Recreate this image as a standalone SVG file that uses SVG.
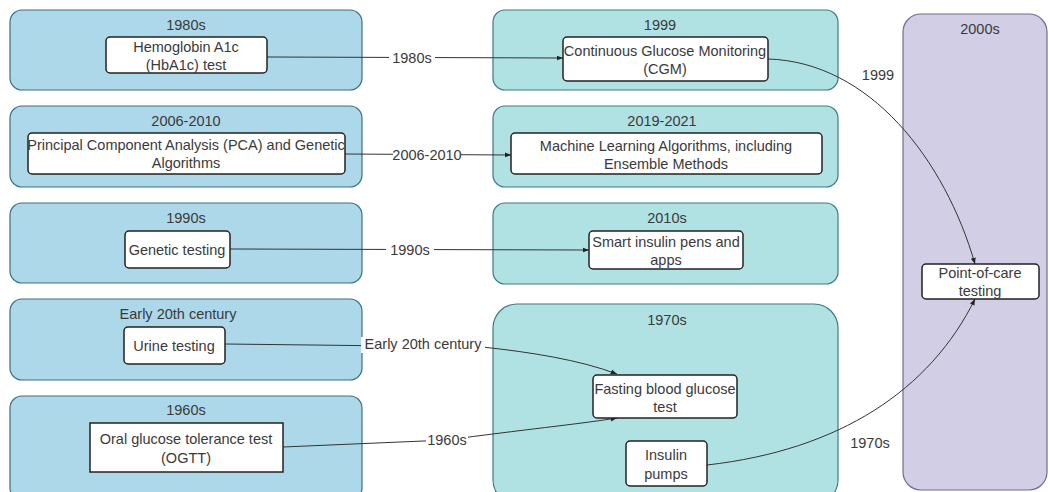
<svg xmlns="http://www.w3.org/2000/svg" width="1048" height="492" viewBox="0 0 1048 492">
<defs>
<style>
text{font-family:"Liberation Sans",Arial,sans-serif;font-size:14.5px;fill:#3a3a3a;text-anchor:middle;dominant-baseline:central}
.cl{fill:#add8e9;stroke:#3f6f7e;stroke-width:1.2}
.cm{fill:#b0e2e4;stroke:#3f7a80;stroke-width:1.2}
.cr{fill:#d1cee5;stroke:#6e6e8e;stroke-width:1.2}
.n{fill:#fff;stroke:#222;stroke-width:1.5}
.e{fill:none;stroke:#333;stroke-width:1}
.lb{fill:#fff;stroke:none}
</style>
<marker id="ar" viewBox="0 0 10 10" refX="9" refY="5" markerWidth="7" markerHeight="7" orient="auto-start-reverse" markerUnits="userSpaceOnUse">
<path d="M0,1.5 L9,5 L0,8.5 z" fill="#222"/>
</marker>
</defs>
<rect width="1048" height="492" fill="#fff"/>

<g id="cluster-1980s"><rect class="cl" x="10" y="10" width="352" height="80" rx="12"/><text x="186" y="25">1980s</text></g>
<g id="cluster-2006-2010"><rect class="cl" x="10" y="106" width="352" height="81" rx="12"/><text x="186" y="121">2006-2010</text></g>
<g id="cluster-1990s"><rect class="cl" x="10" y="203" width="352" height="80" rx="12"/><text x="186" y="218">1990s</text></g>
<g id="cluster-early20th"><rect class="cl" x="10" y="299" width="352" height="81" rx="12"/><text x="178" y="314">Early 20th century</text></g>
<g id="cluster-1960s"><rect class="cl" x="10" y="396" width="352" height="104" rx="12"/><text x="186" y="410">1960s</text></g>

<g id="cluster-1999"><rect class="cm" x="493" y="10" width="345" height="80" rx="12"/><text x="660" y="25">1999</text></g>
<g id="cluster-2019-2021"><rect class="cm" x="493" y="106" width="345" height="81" rx="12"/><text x="662" y="121">2019-2021</text></g>
<g id="cluster-2010s"><rect class="cm" x="493" y="203" width="345" height="81" rx="12"/><text x="667" y="218">2010s</text></g>
<g id="cluster-1970s"><rect class="cm" x="493" y="304" width="345" height="200" rx="24"/><text x="667" y="320">1970s</text></g>

<g id="cluster-2000s"><rect class="cr" x="903" y="14" width="144" height="476" rx="18"/><text x="980" y="29">2000s</text></g>

<g id="connectors">
<path class="e" d="M267,57 L563,58" marker-end="url(#ar)"/>
<path class="e" d="M345,154 L511,155" marker-end="url(#ar)"/>
<path class="e" d="M230,249 L589,250" marker-end="url(#ar)"/>
<path class="e" d="M225,344 L482,347 C530,352 580,360 617,374" marker-end="url(#ar)"/>
<path class="e" d="M283,447 L447,440 C520,430 580,424 617,418" marker-end="url(#ar)"/>
<path class="e" d="M768,59 C870,62 945,160 975,264" marker-end="url(#ar)"/>
<path class="e" d="M707,465 C840,450 930,390 975,299" marker-end="url(#ar)"/>
<rect class="lb" x="389" y="50" width="46" height="16"/><text x="412" y="58">1980s</text>
<rect class="lb" x="393" y="147" width="68" height="16"/><text x="427" y="155">2006-2010</text>
<rect class="lb" x="386" y="242" width="48" height="16"/><text x="410" y="250">1990s</text>
<rect class="lb" x="361" y="337" width="124" height="16"/><text x="423" y="344">Early 20th century</text>
<rect class="lb" x="426" y="432" width="42" height="16"/><text x="447" y="440">1960s</text>
<text x="878" y="75">1999</text>
<text x="870" y="443">1970s</text>
</g>

<g id="node-hba1c"><rect class="n" x="106" y="37" width="161" height="36" rx="4"/><text x="186" y="47">Hemoglobin A1c</text><text x="186" y="65">(HbA1c) test</text></g>
<g id="node-pca"><rect class="n" x="28" y="133" width="317" height="41" rx="4"/><text x="186" y="145">Principal Component Analysis (PCA) and Genetic</text><text x="186" y="163">Algorithms</text></g>
<g id="node-genetic"><rect class="n" x="125" y="231" width="105" height="37" rx="4"/><text x="177" y="250">Genetic testing</text></g>
<g id="node-urine"><rect class="n" x="124" y="327" width="101" height="37" rx="4"/><text x="174" y="346">Urine testing</text></g>
<g id="node-ogtt"><rect class="n" x="90" y="423" width="193" height="49"/><text x="186" y="439">Oral glucose tolerance test</text><text x="186" y="458">(OGTT)</text></g>

<g id="node-cgm"><rect class="n" x="563" y="37" width="205" height="44" rx="4"/><text x="665" y="51">Continuous Glucose Monitoring</text><text x="665" y="69">(CGM)</text></g>
<g id="node-ml"><rect class="n" x="511" y="133" width="311" height="41" rx="4"/><text x="666" y="146">Machine Learning Algorithms, including</text><text x="666" y="164">Ensemble Methods</text></g>
<g id="node-smart"><rect class="n" x="589" y="231" width="154" height="38" rx="4"/><text x="666" y="242">Smart insulin pens and</text><text x="666" y="260">apps</text></g>
<g id="node-fasting"><rect class="n" x="593" y="375" width="144" height="43" rx="4"/><text x="665" y="389">Fasting blood glucose</text><text x="665" y="407">test</text></g>
<g id="node-pumps"><rect class="n" x="626" y="441" width="81" height="45" rx="4"/><text x="666" y="455">Insulin</text><text x="666" y="474">pumps</text></g>

<g id="node-poc"><rect class="n" x="922" y="264" width="117" height="35" rx="4"/><text x="980" y="273">Point-of-care</text><text x="980" y="291">testing</text></g>
</svg>
